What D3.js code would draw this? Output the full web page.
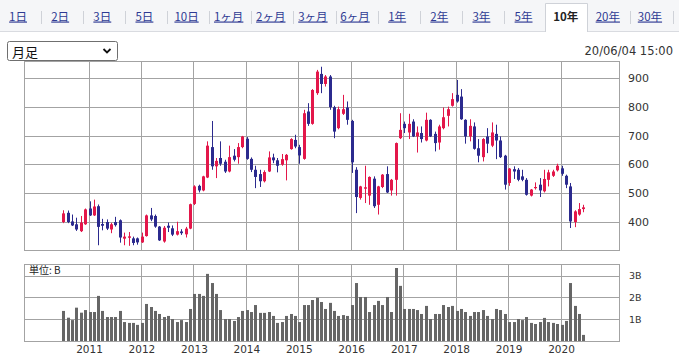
<!DOCTYPE html>
<html><head><meta charset="utf-8">
<script src="https://cdn.jsdelivr.net/npm/d3@7"></script>
<style>
body{margin:0;background:#fff;}
svg{display:block;}
</style></head><body>
<svg id="c" width="679" height="355"></svg>
<script>
// ---------- data ----------
const tabs = ["1日","2日","3日","5日","10日","1ヶ月","2ヶ月","3ヶ月","6ヶ月","1年","2年","3年","5年","10年","20年","30年"];
const selectedTab = "10年";
const periodLabel = "月足";
const dateLabel = "20/06/04 15:00";
const unitLabel = "単位: B";
const priceTicks = [400,500,600,700,800,900];
const volTicks = [1,2,3];
const volTickLabels = ["1B","2B","3B"];
const yearTicks = [2011,2012,2013,2014,2015,2016,2017,2018,2019,2020];
const firstMonth = new Date(2010,6,1);   // Jul 2010
const lastMonth = new Date(2020,5,1);    // Jun 2020

const open = [399,431,401,391,367,391,446,422,454,392,399,373,399,405,341,344,342,342,328,350,
422,420,383,331,386,377,355,366,356,376,462,525,509,554,660,593,622,609,575,630,
625,660,689,619,581,566,541,575,624,614,599,614,653,685,660,619,784,741,848,915,
880,906,799,726,776,798,751,581,483,515,491,550,459,521,566,509,546,691,741,711,
749,697,709,683,755,706,676,726,769,804,842,836,755,697,732,656,625,697,665,706,
683,630,535,583,581,558,546,491,519,529,506,546,560,579,586,560,523,399,425,444];
const high = [440,439,425,414,420,446,471,477,460,410,408,396,417,408,362,364,348,345,362,425,
448,425,385,385,397,387,400,374,382,463,527,529,560,680,751,622,680,616,665,653,
674,699,695,624,595,581,579,645,637,622,636,636,691,703,668,790,813,862,929,940,
911,911,804,801,842,819,755,590,525,595,558,558,525,566,593,549,676,778,749,776,
757,732,732,780,757,714,738,798,801,848,894,862,757,757,746,688,691,726,746,738,
697,633,587,593,587,581,552,514,537,552,581,581,581,602,595,564,535,440,465,459];
const low = [395,395,385,368,364,389,420,420,318,370,371,360,383,327,318,316,318,320,326,348,
402,379,333,327,364,350,352,354,345,374,458,502,506,552,581,552,595,570,572,610,
602,656,616,573,517,521,537,573,604,572,595,544,651,656,602,616,734,738,842,848,
871,790,691,722,772,738,570,430,477,465,459,448,425,517,500,491,491,688,709,688,
695,641,676,680,695,645,651,722,732,801,815,755,672,680,651,607,610,639,660,618,
622,512,525,549,541,541,491,488,512,486,502,523,556,575,560,517,378,381,421,433];
const close = [429,399,387,373,397,443,422,453,382,386,376,391,388,345,348,349,326,328,348,422,
408,383,335,379,379,355,367,360,376,461,523,509,558,665,593,612,602,575,625,616,
660,697,619,581,556,541,573,624,614,595,618,633,688,662,631,778,741,859,923,880,
906,799,714,792,792,755,607,486,523,520,556,454,523,564,502,546,674,720,726,741,
697,711,688,755,697,674,732,764,792,827,819,757,697,734,654,630,688,672,711,683,
625,529,585,575,546,546,494,512,521,509,549,572,575,595,567,529,401,436,444,450];
const volume = [1.38,1.07,0.96,1.53,1.30,1.42,1.33,1.33,2.07,1.38,1.10,1.10,1.10,1.38,0.87,0.83,0.83,0.74,0.83,1.70,
1.56,1.38,1.24,1.10,1.15,1.01,0.87,0.96,0.87,1.47,2.16,2.16,2.07,3.08,2.66,2.16,1.42,1.01,1.01,0.92,
1.10,1.38,1.42,1.33,1.65,1.29,1.29,1.33,1.15,0.83,0.87,1.15,1.24,1.15,0.87,1.65,1.65,1.88,1.98,1.79,
1.47,1.75,1.38,1.15,1.19,1.15,1.65,2.66,2.02,2.02,1.33,1.65,1.84,1.65,2.02,1.33,3.35,2.53,1.47,1.47,
1.47,1.42,1.24,1.61,1.01,1.24,1.24,1.65,1.56,1.61,1.38,1.47,1.33,1.15,1.33,1.33,1.42,1.15,1.01,1.47,
1.42,1.24,0.87,0.87,1.01,0.96,1.10,0.83,0.78,0.87,1.06,0.87,0.83,0.78,0.74,0.92,2.66,1.61,1.24,0.28];

// ---------- setup ----------
const W = 679, H = 355;
const svg = d3.select("#c");
const months = d3.timeMonth.range(firstMonth, d3.timeMonth.offset(lastMonth, 1));
const data = months.map((d, i) => ({date: d, o: open[i], h: high[i], l: low[i], c: close[i], v: volume[i]}));

const plotL = 24.5, plotR = 619.5;
const priceTop = 61.5, priceBot = 250.5;
const volTop = 264.5, volBot = 341.5;
const gridColor = "#a3a3a3";
const upColor = "#e3174a", downColor = "#2b2a8e";
const numFont = "'DejaVu Sans', Verdana, sans-serif";
const cjkFont = "'Noto Sans CJK JP', 'Noto Sans', sans-serif";

const x = d3.scaleTime().domain([new Date(2011,0,1), new Date(2020,0,1)]).range([88.5, 560.5]);
const y = d3.scaleLinear().domain([299, 960]).range([250.7, 61]);
const yv = d3.scaleLinear().domain([0, 3.52]).range([341, 264.3]);
const cx = d => Math.round(x(d) + 1);

// ---------- nav tabs ----------
svg.append("rect").attr("x",0).attr("y",0).attr("width",W).attr("height",32).attr("fill","#f5f6f8");
svg.append("line").attr("x1",0).attr("x2",W).attr("y1",31.5).attr("y2",31.5).attr("stroke","#d9dbe0");
const tb = d3.scaleBand().domain(tabs).range([-3, 671]);
const selX = tb(selectedTab);
svg.append("path")
  .attr("d", `M${Math.round(selX)+0.5},32 V3.5 H${Math.round(selX+tb.bandwidth())+0.5} V32`)
  .attr("fill","#fff").attr("stroke","#cfd2d8");
svg.append("rect").attr("x",Math.round(selX)+1).attr("y",30).attr("width",Math.round(tb.bandwidth())-1).attr("height",3).attr("fill","#fff");
const tabG = svg.append("g");
tabs.forEach((t, i) => {
  const sel = t === selectedTab;
  tabG.append("text")
    .attr("x", tb(t) + tb.bandwidth()/2).attr("y", 20.5)
    .attr("text-anchor","middle")
    .attr("font-family", cjkFont).attr("font-size", 11.5)
    .attr("font-weight", sel ? "bold" : "normal")
    .attr("fill", sel ? "#222" : "#2e3a93")
    .attr("text-decoration", sel ? "none" : "underline")
    .text(t);
  const nextSel = tabs[i+1] === selectedTab;
  if (!sel && !nextSel) {
    const sx = Math.round(tb(t) + tb.bandwidth() + 1.5) + 0.5;
    tabG.append("line").attr("x1",sx).attr("x2",sx).attr("y1",11).attr("y2",24).attr("stroke","#cfd2d8");
  }
});

// ---------- select & date ----------
svg.append("rect").attr("x",7.5).attr("y",41.5).attr("width",110).attr("height",19).attr("rx",2)
  .attr("fill","#fff").attr("stroke","#6f6f6f");
svg.append("text").attr("x",12).attr("y",57).attr("font-family",cjkFont).attr("font-size",13).attr("fill","#111").text(periodLabel);
svg.append("path").attr("d","M103.5,49 L107,52.5 L110.5,49").attr("fill","none").attr("stroke","#111").attr("stroke-width",1.8);
svg.append("text").attr("x",673).attr("y",55).attr("text-anchor","end")
  .attr("font-family",numFont).attr("font-size",11.5).attr("fill","#333").text(dateLabel);

// ---------- price panel ----------
const pg = svg.append("g");
pg.selectAll("line.h").data(priceTicks).join("line")
  .attr("x1",plotL).attr("x2",plotR)
  .attr("y1",d=>Math.round(y(d))+0.5).attr("y2",d=>Math.round(y(d))+0.5)
  .attr("stroke",gridColor);
pg.selectAll("line.v").data(yearTicks).join("line")
  .attr("x1",d=>Math.round(x(new Date(d,0,1)))+0.5).attr("x2",d=>Math.round(x(new Date(d,0,1)))+0.5)
  .attr("y1",priceTop).attr("y2",priceBot).attr("stroke",gridColor);
pg.append("rect").attr("x",plotL).attr("y",priceTop).attr("width",plotR-plotL).attr("height",priceBot-priceTop)
  .attr("fill","none").attr("stroke",gridColor);
pg.selectAll("text").data(priceTicks).join("text")
  .attr("x",628).attr("y",d=>y(d)+4)
  .attr("font-family",numFont).attr("font-size",11).attr("fill","#333").text(d=>d);

const candles = pg.append("g").selectAll("g").data(data).join("g");
candles.append("line")
  .attr("x1",d=>cx(d.date)+0.5).attr("x2",d=>cx(d.date)+0.5)
  .attr("y1",d=>y(d.h)).attr("y2",d=>y(d.l))
  .attr("stroke",d=>d.c>=d.o?upColor:downColor);
candles.append("rect")
  .attr("x",d=>cx(d.date)-1).attr("width",3)
  .attr("y",d=>y(Math.max(d.o,d.c)))
  .attr("height",d=>Math.max(1.2, Math.abs(y(d.o)-y(d.c))))
  .attr("fill",d=>d.c>=d.o?upColor:downColor);

// ---------- volume panel ----------
const vg = svg.append("g");
vg.selectAll("line.h").data(volTicks).join("line")
  .attr("x1",plotL).attr("x2",plotR)
  .attr("y1",d=>Math.round(yv(d))+0.5).attr("y2",d=>Math.round(yv(d))+0.5)
  .attr("stroke",gridColor);
vg.selectAll("line.v").data(yearTicks).join("line")
  .attr("x1",d=>Math.round(x(new Date(d,0,1)))+0.5).attr("x2",d=>Math.round(x(new Date(d,0,1)))+0.5)
  .attr("y1",volTop).attr("y2",volBot).attr("stroke",gridColor);
vg.selectAll("rect.bar").data(data).join("rect")
  .attr("x",d=>cx(d.date)-1).attr("width",3)
  .attr("y",d=>yv(d.v)).attr("height",d=>yv(0)-yv(d.v))
  .attr("fill","#666");
vg.append("rect").attr("x",plotL).attr("y",volTop).attr("width",plotR-plotL).attr("height",volBot-volTop)
  .attr("fill","none").attr("stroke",gridColor);
vg.selectAll("text.vt").data(volTicks).join("text")
  .attr("x",629).attr("y",d=>yv(d)+3.5)
  .attr("font-family",numFont).attr("font-size",9.5).attr("fill","#333")
  .text((d,i)=>volTickLabels[i]);
vg.append("text").attr("x",29).attr("y",273.5).attr("font-family",cjkFont).attr("font-size",10).attr("fill","#222").text(unitLabel);
vg.selectAll("text.yr").data(yearTicks).join("text")
  .attr("x",d=>x(new Date(d,0,1))+1).attr("y",353)
  .attr("text-anchor","middle")
  .attr("font-family",numFont).attr("font-size",10.5).attr("fill","#333").text(d=>d);
</script>
</body></html>
